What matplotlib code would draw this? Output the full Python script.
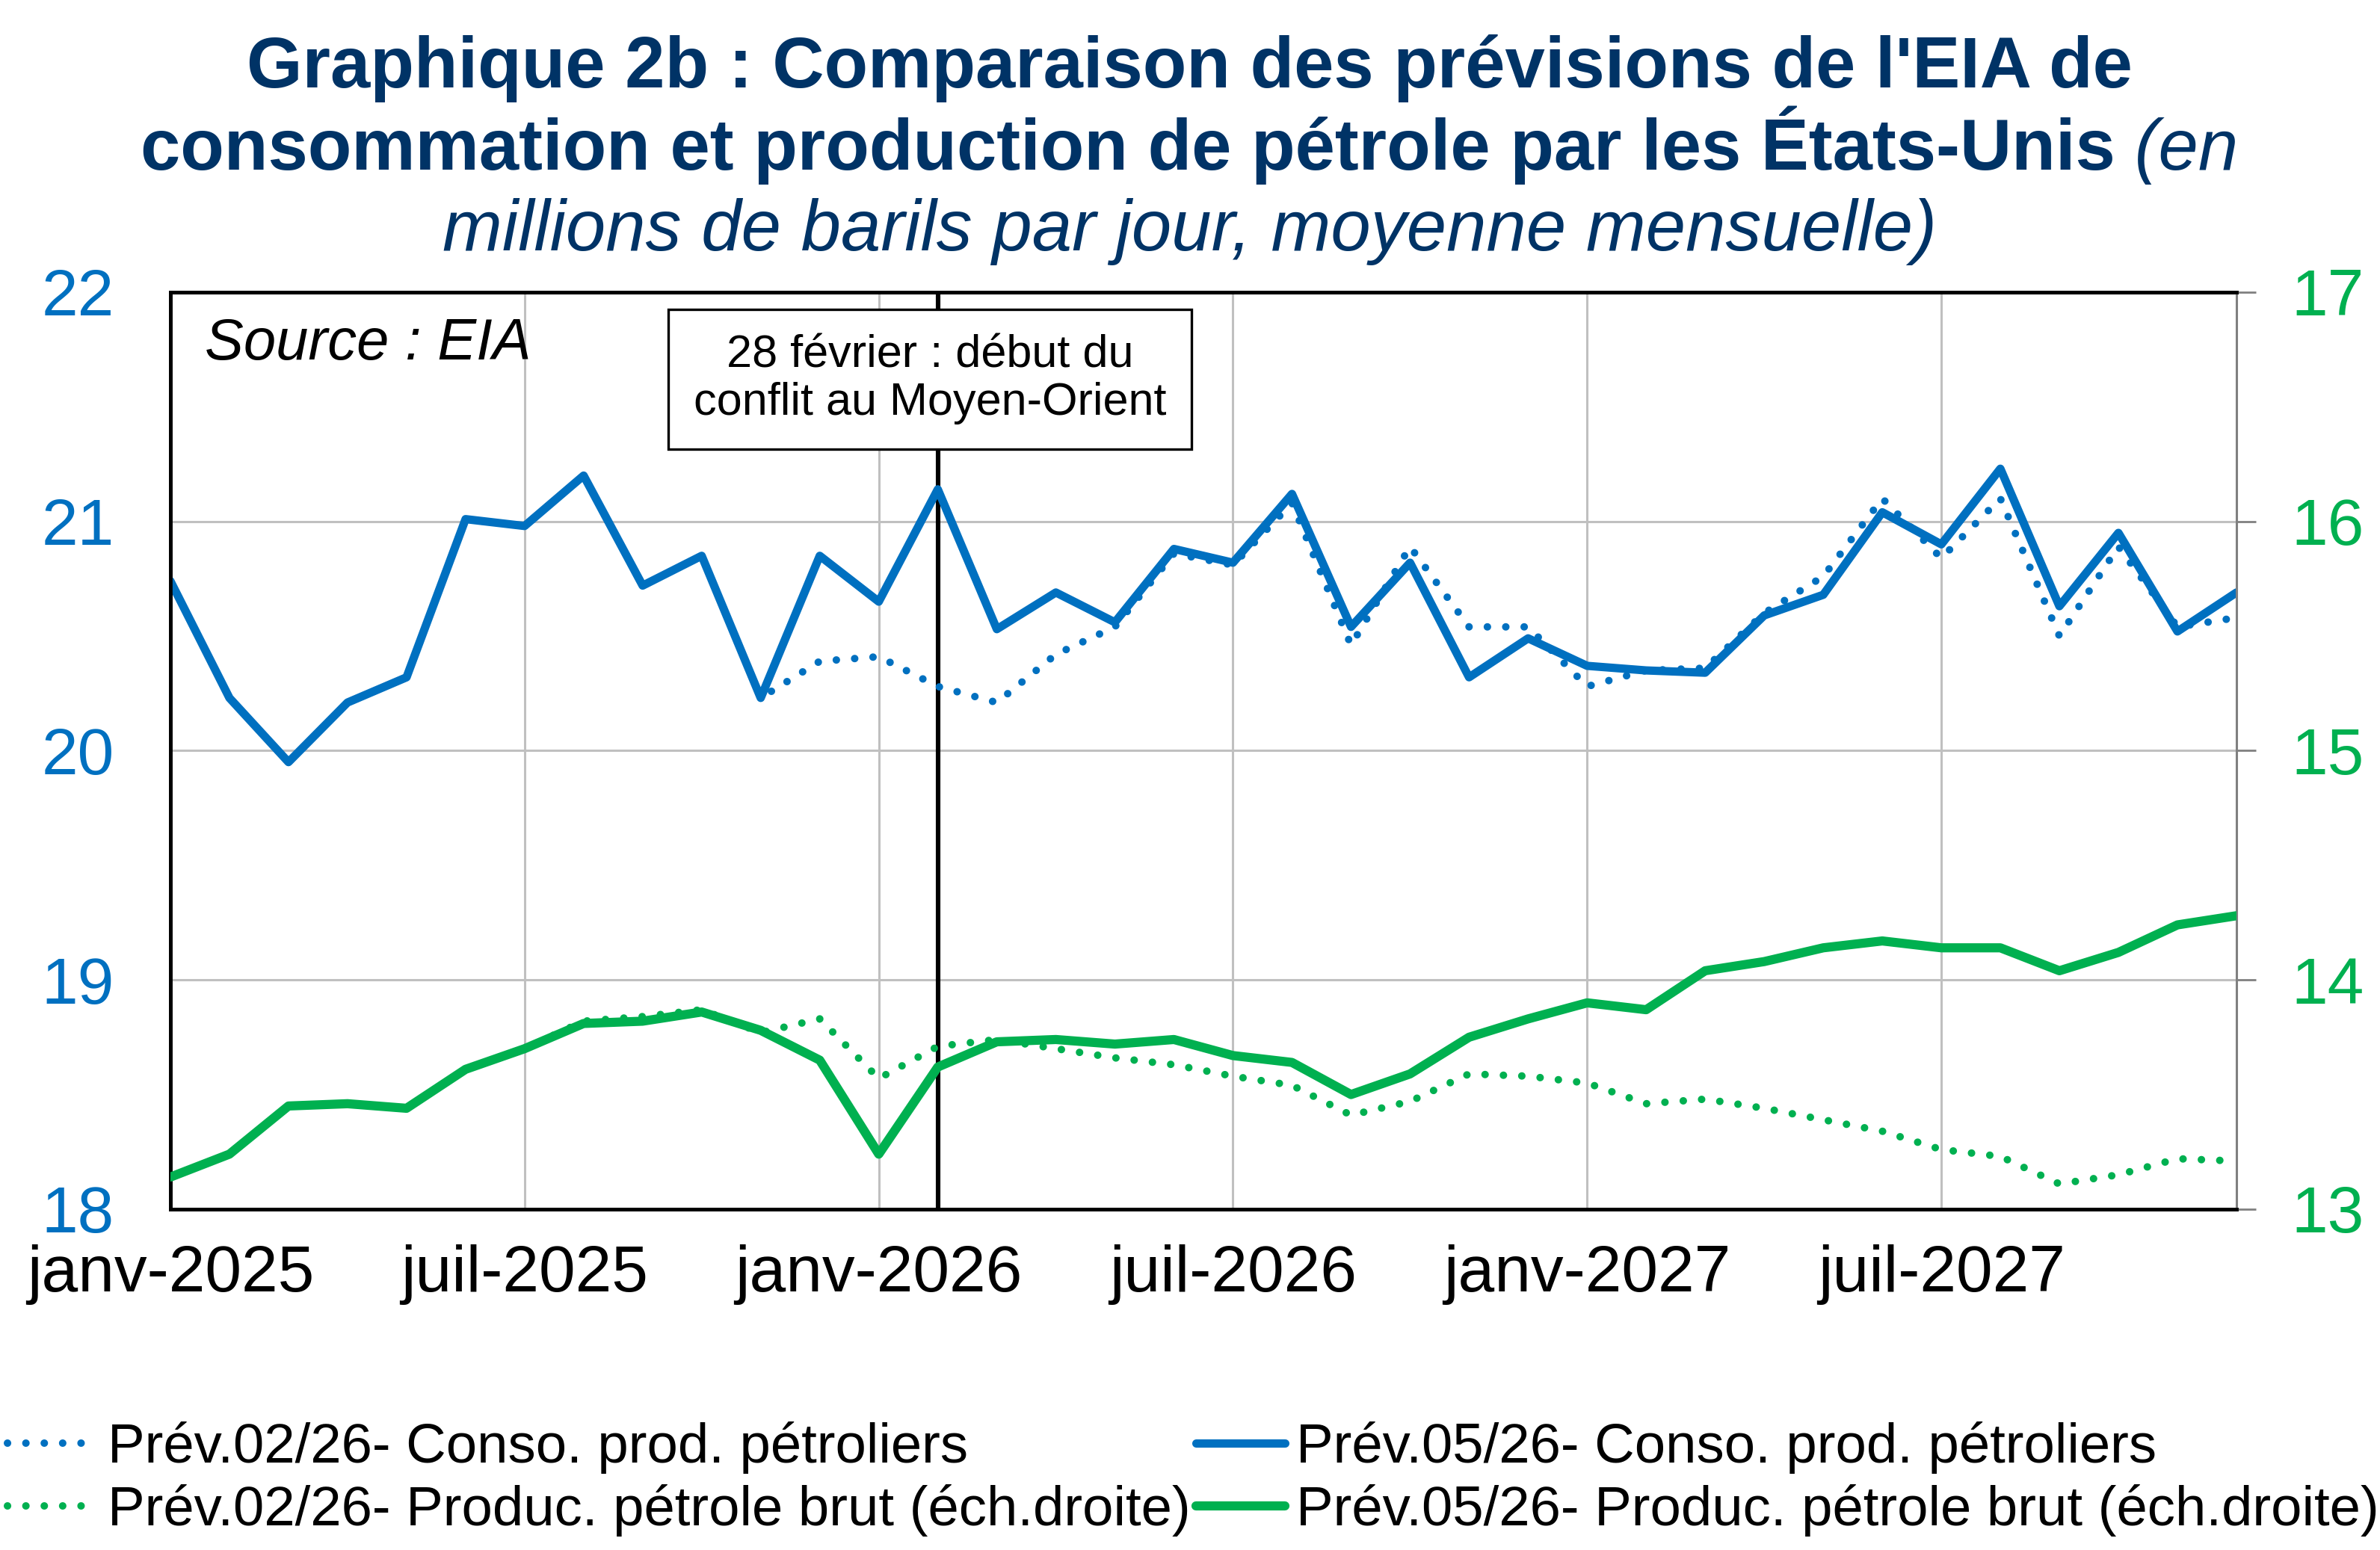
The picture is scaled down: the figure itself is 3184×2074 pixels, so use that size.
""" Graphique 2b : previsions EIA conso / production petrole USA """

# imports
import matplotlib
matplotlib.use("Agg")
import matplotlib.pyplot as plt

plt.rcParams['font.family'] = ['Liberation Sans', 'DejaVu Sans']

# data (janv-2025 .. dec-2027, monthly)
months = list(range(36))
tick_pos = [0, 6, 12, 18, 24, 30]
tick_labels = ['janv-2025', 'juil-2025', 'janv-2026', 'juil-2026', 'janv-2027', 'juil-2027']

conso_may = [20.74, 20.23, 19.95, 20.21, 20.32, 21.01, 20.98, 21.20, 20.72, 20.85, 20.23, 20.85,
             20.65, 21.14, 20.53, 20.69, 20.56, 20.88, 20.82, 21.12, 20.54, 20.82, 20.32, 20.49,
             20.37, 20.35, 20.34, 20.59, 20.68, 21.04, 20.90, 21.23, 20.63, 20.95, 20.52, 20.69]
conso_feb = [20.74, 20.23, 19.95, 20.21, 20.32, 21.01, 20.98, 21.20, 20.72, 20.85, 20.23, 20.39,
             20.41, 20.28, 20.21, 20.42, 20.54, 20.86, 20.81, 21.08, 20.46, 20.89, 20.54, 20.54,
             20.28, 20.35, 20.36, 20.60, 20.76, 21.10, 20.84, 21.10, 20.50, 20.89, 20.54, 20.58]
prod_may = [13.14, 13.24, 13.45, 13.46, 13.44, 13.61, 13.70, 13.81, 13.82, 13.86, 13.78, 13.65,
            13.24, 13.62, 13.73, 13.74, 13.72, 13.74, 13.67, 13.64, 13.50, 13.59, 13.75, 13.83,
            13.90, 13.87, 14.04, 14.08, 14.14, 14.17, 14.14, 14.14, 14.04, 14.12, 14.24, 14.28]
prod_feb = [13.14, 13.24, 13.45, 13.46, 13.44, 13.61, 13.70, 13.82, 13.84, 13.87, 13.77, 13.83,
            13.57, 13.71, 13.74, 13.70, 13.66, 13.63, 13.58, 13.54, 13.41, 13.47, 13.59, 13.58,
            13.55, 13.46, 13.48, 13.44, 13.39, 13.34, 13.26, 13.23, 13.11, 13.15, 13.22, 13.21]

labels = ['Prév.02/26- Conso. prod. pétroliers',
          'Prév.02/26- Produc. pétrole brut (éch.droite)',
          'Prév.05/26- Conso. prod. pétroliers',
          'Prév.05/26- Produc. pétrole brut (éch.droite)']

conflict_month = 13
blue = '#0070C0'
green = '#00B050'
navy = '#003366'
dots = (0, (0.01, 2.45))

# figure
fig = plt.figure(figsize=(15.92, 10.37), dpi=200)
ax = fig.add_axes([0.0716, 0.2199, 0.8681, 0.5916])
ax2 = ax.twinx()

# lines
l1, = ax.plot(months, conso_feb, color=blue, lw=3.6, linestyle=dots, dash_capstyle='round', zorder=3)
l3, = ax.plot(months, conso_may, color=blue, lw=4.0, solid_capstyle='round', zorder=4)
l2, = ax2.plot(months, prod_feb, color=green, lw=3.6, linestyle=dots, dash_capstyle='round', zorder=3)
l4, = ax2.plot(months, prod_may, color=green, lw=4.4, solid_capstyle='round', zorder=4)

ax.axvline(conflict_month, color='black', lw=2.2, zorder=2)

# axes
ax.set_xlim(0, 35)
ax.set_ylim(18, 22)
ax2.set_ylim(13, 17)
ax.set_yticks([18, 19, 20, 21, 22])
ax2.set_yticks([13, 14, 15, 16, 17])
ax.set_xticks(tick_pos)
ax.set_xticklabels(tick_labels)
ax.grid(True, color='#C0C0C0', lw=1.1)
ax.set_axisbelow(True)
ax.tick_params(axis='x', length=0, pad=17, labelsize=31.5, colors='black')
ax.tick_params(axis='y', length=0, pad=27, labelsize=31.5, labelcolor=blue)
ax2.tick_params(axis='y', direction='out', length=9.4, width=1.0, color='#808080',
                pad=17, labelsize=31.5, labelcolor=green)
for s in ['left', 'top', 'bottom']:
	ax.spines[s].set_linewidth(1.7)
	ax.spines[s].set_color('black')
	ax2.spines[s].set_linewidth(1.7)
	ax2.spines[s].set_color('black')
ax2.spines['right'].set_color('#808080')
ax2.spines['right'].set_linewidth(1.1)
ax.spines['right'].set_visible(False)

# annotations
ax.text(0.0166, 0.927, 'Source : EIA', transform=ax.transAxes, fontsize=28,
        style='italic', ha='left', va='baseline')
ax.text(12.87, 21.62, '28 février : début du\nconflit au Moyen-Orient', fontsize=22,
        ha='center', va='center', linespacing=1.15, zorder=6,
        bbox=dict(boxstyle='square,pad=0.55', fc='white', ec='black', lw=1.2))

# title
fig.text(0.4997, 0.9436, "Graphique 2b : Comparaison des prévisions de l'EIA de",
         fontsize=34.5, fontweight='bold', color=navy, ha='center', va='baseline')
t_a = fig.text(0, 0.8906, 'consommation et production de pétrole par les États-Unis',
               fontsize=34.5, fontweight='bold', color=navy, ha='left', va='baseline')
t_b = fig.text(0, 0.8906, ' (en', fontsize=34.5, style='italic', color=navy,
               ha='left', va='baseline')
fig.text(0.4997, 0.8385, 'millions de barils par jour, moyenne mensuelle)',
         fontsize=34.5, style='italic', color=navy, ha='center', va='baseline')
renderer = fig.canvas.get_renderer()
fw = fig.bbox.width
wa = t_a.get_window_extent(renderer).width / fw
wb = t_b.get_window_extent(renderer).width / fw
x0 = 0.4997 - (wa + wb) / 2
t_a.set_x(x0)
t_b.set_x(x0 + wa)

# legend
fig.legend([l1, l2, l3, l4], labels, ncol=2, loc='center left',
           bbox_to_anchor=(0.003, 0.0458), frameon=False, fontsize=26.8,
           handlelength=1.6, handletextpad=0.2, columnspacing=0.1,
           labelspacing=0.2, borderpad=0, borderaxespad=0)

fig.savefig('out.png', dpi=200)
